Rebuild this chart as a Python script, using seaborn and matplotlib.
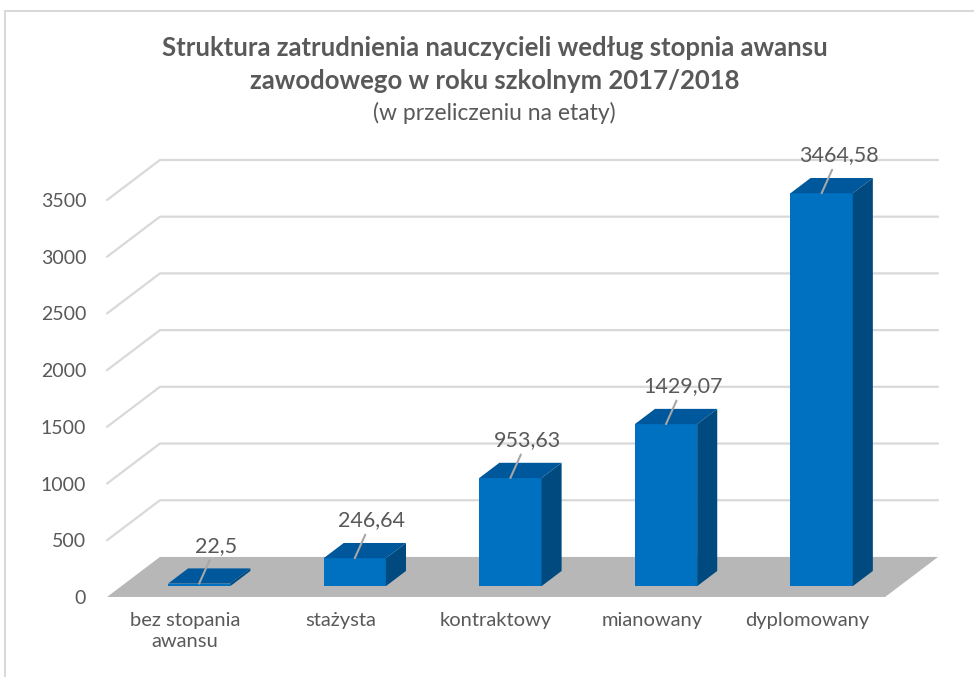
import matplotlib
matplotlib.use('Agg')
import matplotlib.pyplot as plt
from matplotlib.patches import Polygon, Rectangle
import seaborn as sns
import pandas as pd

# dane: struktura zatrudnienia nauczycieli (etaty)
kategorie = ['bez stopania\nawansu', 'stażysta', 'kontraktowy', 'mianowany', 'dyplomowany']
etaty = [22.5, 246.64, 953.63, 1429.07, 3464.58]
etykiety = ['22,5', '246,64', '953,63', '1429,07', '3464,58']
os_y = [0, 500, 1000, 1500, 2000, 2500, 3000, 3500]

df = pd.DataFrame({'stopien': kategorie, 'etaty': etaty})

sns.set_theme(style='white')
plt.rcParams['font.family'] = ['Lato', 'DejaVu Sans']

kolor_tekst = '#595959'
kolor_przod = '#0070C0'
kolor_bok = '#004A80'
kolor_gora = '#00589C'

fig = plt.figure(figsize=(9.74, 6.77), dpi=100)
ax = fig.add_axes([0.1099, 0.1182, 0.8532, 0.6455])

# pseudo-3D: przesuniecie tylnej sciany
glab_x = 0.34
glab_y = 353
poz_slupka = 0.27   # jak gleboko stoja slupki
gleb_slupka = 0.38  # grubosc slupka w glab

sns.barplot(data=df, x='stopien', y='etaty', color=kolor_przod, width=0.4,
            saturation=1, ax=ax, zorder=3, linewidth=0)

# przesuniecie slupkow w glab + sciany boczne i gorne
sx, sy = gleb_slupka * glab_x, gleb_slupka * glab_y
for p, lab in zip(ax.patches[:len(etaty)], etykiety):
    p.set_x(p.get_x() + poz_slupka * glab_x)
    p.set_y(p.get_y() + poz_slupka * glab_y)
    x0, y0 = p.get_x(), p.get_y()
    x1, y1 = x0 + p.get_width(), y0 + p.get_height()
    ax.add_patch(Polygon([(x0, y1), (x1, y1), (x1 + sx, y1 + sy), (x0 + sx, y1 + sy)],
                         closed=True, facecolor=kolor_gora, edgecolor='none', zorder=3))
    ax.add_patch(Polygon([(x1, y0), (x1 + sx, y0 + sy), (x1 + sx, y1 + sy), (x1, y1)],
                         closed=True, facecolor=kolor_bok, edgecolor='none', zorder=3))
    ax.annotate(lab, xy=((x0 + x1) / 2, y1), xytext=(17, 38), textcoords='offset pixels',
                ha='center', va='center', fontsize=15.5, color=kolor_tekst, zorder=5,
                arrowprops=dict(arrowstyle='-', color='#A6A6A6', lw=1.5, shrinkA=1, shrinkB=0))

# podloga
ax.add_patch(Polygon([(-0.5, 0), (4.5, 0), (4.5 + glab_x, glab_y), (-0.5 + glab_x, glab_y)],
                     closed=True, facecolor='#B7B7B7', edgecolor='none', zorder=1))

# linie siatki na scianach
for v in os_y[1:]:
    ax.plot([-0.5, -0.5 + glab_x, 4.5 + glab_x], [v, v + glab_y, v + glab_y],
            color='#D9D9D9', lw=1.6, zorder=0, clip_on=False)

ax.set_xlim(-0.5, 4.5 + glab_x)
ax.set_ylim(0, 3500 + glab_y)
ax.set_yticks(os_y)
ax.set_yticklabels([str(v) for v in os_y])
ax.set_xlabel('')
ax.set_ylabel('')
ax.tick_params(axis='y', length=0, pad=15, labelsize=14, labelcolor=kolor_tekst)
ax.tick_params(axis='x', length=0, pad=11, labelsize=14.5, labelcolor=kolor_tekst)
for t in ax.get_xticklabels():
    t.set_linespacing(1.25)
for s in ax.spines.values():
    s.set_visible(False)

# tytul
fig.text(0.508, 0.929, 'Struktura zatrudnienia nauczycieli według stopnia awansu',
         ha='center', va='center', fontsize=18.5, fontweight='bold', color=kolor_tekst)
fig.text(0.508, 0.881, 'zawodowego w roku szkolnym 2017/2018',
         ha='center', va='center', fontsize=18.5, fontweight='bold', color=kolor_tekst)
fig.text(0.508, 0.833, '(w przeliczeniu na etaty)',
         ha='center', va='center', fontsize=16.5, color=kolor_tekst)

# ramka wykresu
fig.add_artist(Rectangle((5 / 974, -0.1), 1.2, 1.1 - 11 / 677, transform=fig.transFigure,
                         fill=False, edgecolor='#D9D9D9', lw=1.5))

plt.savefig('out.png', dpi=100)
